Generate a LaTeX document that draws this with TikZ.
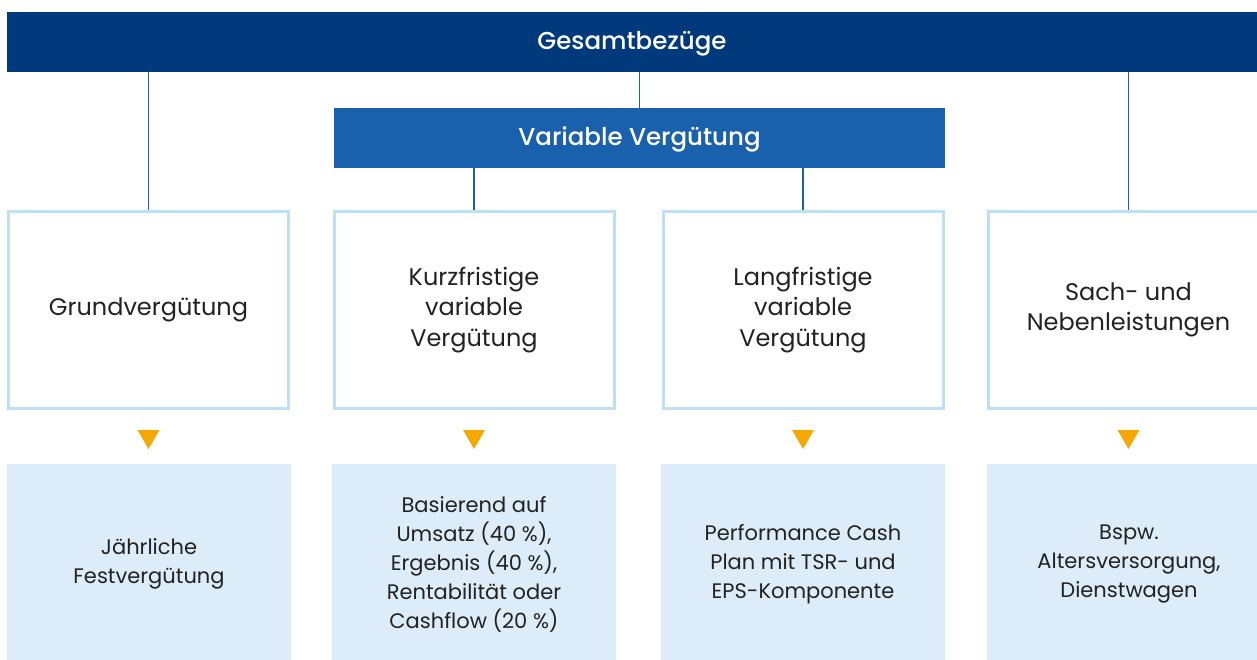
\documentclass[tikz,border=0pt]{standalone}
\usepackage{fontspec}
\usetikzlibrary{calc}
\setmainfont{Poppins}
\newfontfamily\medfont{Poppins Medium}
\definecolor{darkblue}{HTML}{003A7C}
\definecolor{midblue}{HTML}{1A61AD}
\definecolor{paleblue}{HTML}{BEE0F6}
\definecolor{fillblue}{HTML}{DCECF8}
\definecolor{marker}{HTML}{F5A800}
\definecolor{txt}{HTML}{222222}
\tikzset{
  bar/.style={fill=#1, text=white, inner sep=0pt, minimum height=60pt,
    text depth=3pt, font=\fontsize{24.5}{26}\selectfont\medfont},
  part/.style={draw=paleblue, line width=3pt, fill=white, text=txt,
    minimum width=280pt, minimum height=197pt, inner sep=0pt,
    align=center, font=\fontsize{24}{30.5}\selectfont},
  note/.style={fill=fillblue, text=txt, minimum width=284pt,
    minimum height=200pt, inner sep=0pt, align=center,
    font=\fontsize{21}{29}\selectfont},
  link/.style={draw=midblue, line width=1.2pt},
  tip/.style={fill=marker}
}
\begin{document}
\begin{tikzpicture}[x=1pt,y=-1pt]
\useasboundingbox (0,0) rectangle (1257,659);
% headers
\node[bar=darkblue, minimum width=1250pt] (ges) at (632,42) {Gesamtbezüge};
\node[bar=midblue, minimum width=611pt] (var) at (639.5,138) {Variable Vergütung};
% components
\node[part] (grund) at (148.5,310) {Grundvergütung};
\node[part] (kurz) at (474,310) {Kurzfristige\\variable\\Vergütung};
\node[part] (lang) at (803,310) {Langfristige\\variable\\Vergütung};
\node[part] (sach) at (1128.5,310) {Sach- und\\Nebenleistungen};
% details
\node[note] (grundx) at (149,564) {Jährliche\\Festvergütung};
\node[note] (kurzx) at (474,564) {Basierend auf\\Umsatz (40~\%),\\Ergebnis (40~\%),\\Rentabilität oder\\Cashflow (20~\%)};
\node[note] (langx) at (803,564) {Performance Cash\\Plan mit TSR- und\\EPS-Komponente};
\node[note] (sachx) at (1129,564) {Bspw.\\Altersversorgung,\\Dienstwagen};
% connectors
\draw[link] (ges.south -| grund.north) -- (grund.north);
\draw[link] (ges.south -| var.north) -- (var.north);
\draw[link] (ges.south -| sach.north) -- (sach.north);
\draw[link] (var.south -| kurz.north) -- (kurz.north);
\draw[link] (var.south -| lang.north) -- (lang.north);
% markers
\foreach \n in {grund,kurz,lang,sach}
  \fill[tip] ($(\n.south)+(-11,20)$) -- ++(22,0) -- ++(-11,19) -- cycle;
\end{tikzpicture}
\end{document}
